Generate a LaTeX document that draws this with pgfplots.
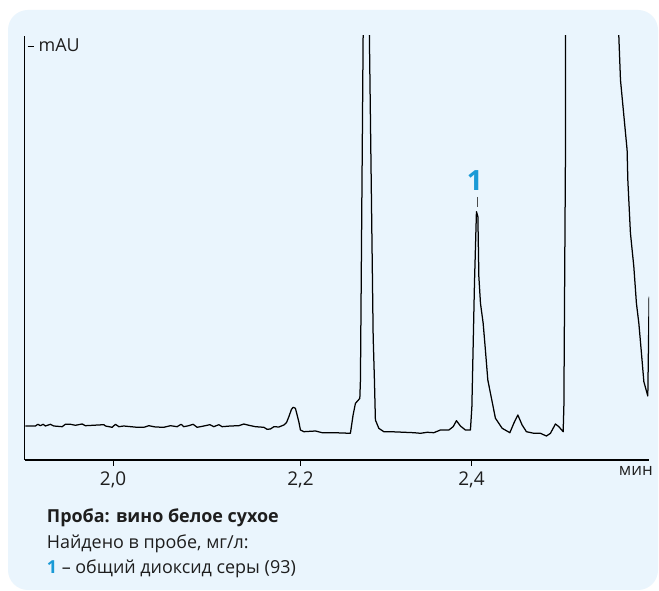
\documentclass[border=0pt]{standalone}
\usepackage{pgfplots}
\pgfplotsset{compat=1.18}
\usepackage{fontspec}
\setmainfont{Open Sans}
\definecolor{boxblue}{HTML}{EAF5FD}
\definecolor{accent}{HTML}{1A9AD6}
\definecolor{txt}{HTML}{1E1E1E}

\pgfplotstableread{
t y
1.9021 34.0
1.9133 34.0
1.9159 35.7
1.9188 34.3
1.9219 35.7
1.9244 34.0
1.9300 35.7
1.9338 34.0
1.9431 33.3
1.9467 35.7
1.9523 35.7
1.9579 34.7
1.9654 36.0
1.9691 34.3
1.9896 35.3
1.9914 34.0
1.9989 32.7
2.0026 35.7
2.0064 33.3
2.0119 34.0
2.0268 32.7
2.0343 32.7
2.0399 34.3
2.0472 33.0
2.0566 32.7
2.0640 34.3
2.0714 33.3
2.0759 35.7
2.0789 33.3
2.0845 34.3
2.0893 35.7
2.0938 32.7
2.1013 34.0
2.1080 35.3
2.1124 33.3
2.1180 35.3
2.1217 33.3
2.1310 34.0
2.1403 34.3
2.1459 36.0
2.1515 34.7
2.1589 33.3
2.1682 32.7
2.1719 30.7
2.1756 31.0
2.1794 33.3
2.1850 33.0
2.1906 35.0
2.1935 37.3
2.1962 43.3
2.1991 50.7
2.2010 52.7
2.2035 51.7
2.2073 38.3
2.2091 30.0
2.2129 28.3
2.2259 29.0
2.2333 27.3
2.2464 27.3
2.2649 26.7
2.2679 45.0
2.2705 56.7
2.2732 59.3
2.2754 61.7
2.2761 80.0
2.2791 423.3
2.2825 600
2.2861 423.3
2.2903 123.3
2.2917 80.0
2.2928 40.0
2.2966 31.7
2.3022 28.3
2.3096 28.3
2.3357 27.3
2.3431 26.7
2.3506 27.7
2.3580 27.3
2.3654 30.0
2.3748 30.0
2.3796 33.3
2.3833 39.3
2.3877 34.0
2.3933 30.0
2.3989 30.0
2.4005 53.3
2.4034 177.0
2.4056 248.3
2.4072 243.3
2.4083 183.3
2.4101 156.7
2.4131 136.7
2.4156 110.0
2.4183 80.0
2.4220 63.3
2.4268 41.7
2.4306 36.7
2.4343 31.7
2.4429 27.3
2.4473 36.7
2.4518 45.0
2.4566 35.0
2.4614 28.3
2.4697 26.7
2.4770 26.7
2.4837 24.0
2.4882 26.7
2.4938 36.0
2.4976 33.3
2.5024 28.3
2.5032 53.3
2.5050 310.0
2.5054 700
2.5630 700
2.5646 422.7
2.5664 380.0
2.5738 310.0
2.5746 280.0
2.5775 227.0
2.5813 193.3
2.5842 156.7
2.5869 136.7
2.5895 110.0
2.5925 78.3
2.5969 64.0
2.5984 163.3
}\trace

\begin{document}
\begin{tikzpicture}[x=1bp,y=1bp]
\fill[white] (0,0) rectangle (659,591);
\fill[boxblue, rounded corners=20bp] (8,1) rectangle (658,581);
\begin{axis}[
  at={(27.5,131)}, anchor=south west,
  scale only axis, width=624.5bp, height=424bp,
  xmin=1.9012, xmax=2.5984, ymin=0, ymax=424,
  axis x line=bottom, axis y line=left,
  axis line style={-, line width=1.2bp, black},
  xtick={2.0,2.2091,2.4}, xticklabels={{2,0},{2,2},{2,4}},
  ytick=\empty,
  tick align=outside, major tick length=6bp,
  tick style={line width=1.2bp, black},
  xticklabel style={font=\fontsize{19}{21}\selectfont, text=txt, yshift=-2bp},
  /pgf/number format/assume math mode=true,
  clip=true,
]
\addplot[black, line width=1.25bp, line join=round, mark=none] table[x=t, y=y] {\trace};
\node[font=\bfseries\fontsize{28}{30}\selectfont, text=accent, inner sep=0] at (axis cs:2.4038,279.3) {1};
\draw[black!70, line width=1bp] (axis cs:2.4064,263) -- (axis cs:2.4064,253);
\end{axis}
\draw[line width=1.2bp] (27.5,544.3) -- (33.5,544.3);
\node[anchor=base west, font=\fontsize{18}{20}\selectfont, text=txt, inner sep=0] at (38.5,539.3) {mAU};
\node[anchor=base east, font=\fontsize{17}{20}\selectfont, text=txt, inner sep=0] at (653,115) {мин};
\node[anchor=base west, font=\bfseries\fontsize{18}{22}\selectfont, text=txt, inner sep=0] at (46.7,68) {Проба: вино белое сухое};
\node[anchor=base west, font=\fontsize{18}{22}\selectfont, text=txt, inner sep=0] at (46.7,42.7) {Найдено в пробе, мг/л:};
\node[anchor=base west, font=\fontsize{18}{22}\selectfont, text=txt, inner sep=0] at (46.7,17.7) {{\color{accent}\bfseries 1} – общий диоксид серы (93)};
\end{tikzpicture}
\end{document}
